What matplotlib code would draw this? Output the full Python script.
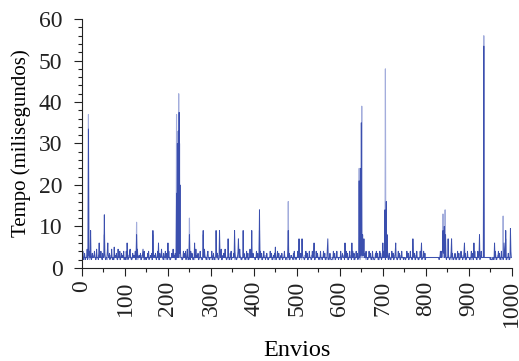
import matplotlib.pyplot as plt
from matplotlib import font_manager
from matplotlib.ticker import MultipleLocator

# fails loudly if the Times-like font is missing
font_manager.findfont("Liberation Serif", fallback_to_default=False)
plt.rcParams['font.family'] = ['Liberation Serif', 'DejaVu Serif']

# tempo base de cada envio em meios milissegundos (5 = 2.5 ms), 50 envios por linha
dark_rows = [
    "55845575455594556855454575556855459555475565855475",
    "56575445585655745559545548556575449555845575655845",
    "55485574555895544575565584455955565574455795584455",
    "45575845556575448566575455855447555965547555855745",
    "55855445575595655744558555475855544585575845595544",
    "55485575445575595655744558555445575965545578555455",
    "55845574455658575445585594456575595544558555475845",
    "55575485544558575965544558575445585574455955545575",
    "55545585574455585574455855545575544555855744556575",
    "54455855744556575455585544555855744556555475855545",
    "55855445575597555445585574455855544585575445585575",
    "54455855545585574455595544575444455855744558555455",
    "55845576555445585574455855545585574455855745575556",
    "57686655575855545586575455855444575855744558575455",
    "55855547755854575445585574455855544585574455855545",
    "55445585574455855545585574455855544558575455585574",
    "55555555555555555555555555555554558585785878575545",
    "55855445585575445575445585574455855545585574455855",
    "55445585574455855545585574455855555555555555555555",
    "45444455455585545558575455855545585574455575545585",
]
light_rows = [
    "55555545555565555545555555655555455555565555555455",
    "55565555545555555655555455555565555555545555565555",
    "55455555565555545555555655555545555555655555455555",
    "55555655555545555555565555555455555655555554555555",
    "55545555555655555455555565555555455555565555545555",
    "55555565555545555555655555554555555655555554555555",
    "55565555555455555565555555455555556555555545555555",
    "55555545555565555555455555565555554555555565555555",
    "55545555556555555545555555655555455555565555555455",
    "55555655555545555555565555555455555655555554555555",
    "55565555555455555565555555455555556555555545555555",
    "55555545555565555555455555555555554555555565555555",
    "55545555556555555545555555655555455555565555555456",
    "56565555555455555565555555455555556555555545555555",
    "55555545555565555555455555565555554555555565555555",
    "55545555556555555545555555655555455555565555555455",
    "55555555555555555555555555555555556555565555545555",
    "55565555555455555565555555455555556555555545555555",
    "55555545555565555555455555565555555555555555555555",
    "55555555555455555565555555455555556555555545555555",
]

# picos (envio: ms)
dark_peaks = {15: 33.5, 20: 9, 40: 6, 52: 12.8, 60: 6, 75: 5, 105: 6, 127: 8,
              165: 9, 178: 6, 200: 6, 220: 18, 222: 30, 224: 33, 226: 37.5,
              228: 20, 250: 8, 262: 6, 282: 9, 312: 9, 320: 9, 340: 7, 355: 9,
              364: 7, 375: 9, 395: 9, 413: 14, 450: 5, 480: 9, 505: 7, 512: 7,
              540: 6, 572: 7, 612: 6, 628: 6, 645: 21, 648: 24, 650: 35, 653: 8,
              656: 7, 700: 6, 705: 14, 708: 16, 710: 8, 730: 6, 770: 7, 790: 6,
              840: 9, 843: 10, 846: 8, 852: 7, 860: 7, 890: 6, 912: 6, 925: 8,
              935: 53.5, 960: 6, 982: 6, 986: 9, 997: 9.5}
light_peaks = {15: 37, 52: 8, 127: 11, 165: 8, 220: 37, 223: 25, 225: 42,
               227: 30, 250: 12, 282: 8, 413: 9, 480: 16, 645: 24, 651: 39,
               706: 48, 708: 15, 840: 13, 845: 14, 935: 56, 980: 12.5, 986: 7}

dark = [int(c) / 2 for c in "".join(dark_rows)]
light = [int(c) / 2 for c in "".join(light_rows)]
for k, v in dark_peaks.items():
    dark[k] = v
for k, v in light_peaks.items():
    light[k] = v

fig = plt.figure(figsize=(5.19, 3.61), dpi=100)
ax = fig.add_axes([0.158, 0.258, 0.828, 0.689])

ax.plot(range(len(light)), light, color="#a3addc", lw=0.8)
ax.plot(range(len(dark)), dark, color="#3b4fae", lw=0.7)

ax.set_xlim(0, 1000)
ax.set_ylim(0, 60)
ax.xaxis.set_major_locator(MultipleLocator(100))
ax.xaxis.set_minor_locator(MultipleLocator(50))
ax.yaxis.set_major_locator(MultipleLocator(10))
ax.yaxis.set_minor_locator(MultipleLocator(2))
ax.tick_params(axis="both", which="major", length=6, width=0.8, labelsize=17, colors="#222222")
ax.tick_params(axis="y", which="major", pad=8)
ax.tick_params(axis="x", which="major", pad=3, labelrotation=90)
ax.tick_params(axis="both", which="minor", length=3, width=0.8, colors="#222222")
for s in ["top", "right"]:
    ax.spines[s].set_visible(False)
for s in ["left", "bottom"]:
    ax.spines[s].set_color("#222222")

ax.set_xlabel("Envios", fontsize=17.5, labelpad=9)
ax.set_ylabel("Tempo (milisegundos)", fontsize=15, labelpad=6)

plt.savefig("out.png")
